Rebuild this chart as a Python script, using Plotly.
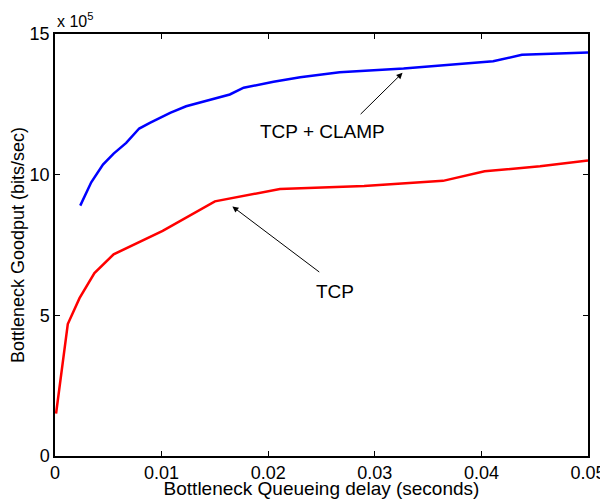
import plotly.graph_objects as go

# Data (goodput in units of 1e5 bits/sec)
tcp_delay = [0.0001, 0.0012, 0.0023, 0.0037, 0.0055, 0.0101, 0.0150, 0.0211, 0.0290, 0.0364, 0.0403, 0.0455, 0.0500]
tcp_goodput = [1.51, 4.69, 5.61, 6.50, 7.17, 8.00, 9.05, 9.49, 9.60, 9.78, 10.12, 10.30, 10.50]

clamp_delay = [0.00237, 0.0034, 0.0045, 0.0055, 0.00668, 0.0079, 0.0089, 0.0108, 0.0123, 0.0151,
               0.0164, 0.0177, 0.0205, 0.0230, 0.0267, 0.0327, 0.0411, 0.0438, 0.0500]
clamp_goodput = [8.90, 9.73, 10.36, 10.75, 11.13, 11.64, 11.84, 12.20, 12.43, 12.73,
                 12.85, 13.09, 13.30, 13.46, 13.64, 13.77, 14.03, 14.26, 14.34]

x_ticks = [0, 0.01, 0.02, 0.03, 0.04, 0.05]
x_ticklabels = ["0", "0.01", "0.02", "0.03", "0.04", "0.05"]
y_ticks = [0, 5, 10, 15]
y_ticklabels = ["0", "5", "10", "15"]

FONT = "Liberation Sans, Arial, Helvetica, sans-serif"

fig = go.Figure()
fig.add_trace(go.Scatter(x=clamp_delay, y=clamp_goodput, mode="lines",
                         line=dict(color="#0000ff", width=2.5), name="TCP + CLAMP"))
fig.add_trace(go.Scatter(x=tcp_delay, y=tcp_goodput, mode="lines",
                         line=dict(color="#ff0000", width=2.5), name="TCP"))

fig.add_annotation(x=0.0326, y=13.62, ax=0.02853, ay=12.10, xref="x", yref="y",
                   axref="x", ayref="y", text="", showarrow=True, arrowhead=2,
                   arrowsize=1.2, arrowwidth=1, arrowcolor="#000000")
fig.add_annotation(x=0.0190, y=11.53, xref="x", yref="y", text="TCP + CLAMP",
                   xanchor="left", showarrow=False,
                   font=dict(family=FONT, size=19, color="#000000"))
fig.add_annotation(x=0.01664, y=8.87, ax=0.02493, ay=6.50, xref="x", yref="y",
                   axref="x", ayref="y", text="", showarrow=True, arrowhead=2,
                   arrowsize=1.2, arrowwidth=1, arrowcolor="#000000")
fig.add_annotation(x=0.02430, y=5.84, xref="x", yref="y", text="TCP",
                   xanchor="left", showarrow=False,
                   font=dict(family=FONT, size=19, color="#000000"))
fig.add_annotation(x=0.0, y=1 + 2 / 422, xref="paper", yref="paper",
                   xanchor="left", yanchor="bottom", text="x 10<sup>5</sup>",
                   showarrow=False, font=dict(family=FONT, size=16, color="#000000"))

# page body adds an 8px offset; size/margins compensate so the plot area
# lands at x 55..588, y 34..456 in the window
fig.update_layout(
    width=600, height=491,
    margin=dict(l=47, r=20, t=26, b=43),
    paper_bgcolor="white", plot_bgcolor="white",
    showlegend=False,
    font=dict(family=FONT, size=18, color="#000000"),
)
fig.update_xaxes(range=[0, 0.05], tickvals=x_ticks, ticktext=x_ticklabels,
                 automargin=False,
                 showgrid=False, zeroline=False, showline=True, linecolor="#000000",
                 linewidth=1.5, mirror="ticks", ticks="inside", ticklen=5, tickwidth=1,
                 tickcolor="#000000",
                 title=dict(text="Bottleneck Queueing delay (seconds)", standoff=0,
                            font=dict(size=19)))
fig.update_yaxes(range=[0, 15], tickvals=y_ticks, ticktext=y_ticklabels,
                 automargin=False,
                 showgrid=False, zeroline=False, showline=True, linecolor="#000000",
                 linewidth=1.5, mirror="ticks", ticks="inside", ticklen=5, tickwidth=1,
                 tickcolor="#000000",
                 title=dict(text="Bottleneck Goodput (bits/sec)", standoff=6,
                            font=dict(size=18)))

fig.write_html("out.html")
